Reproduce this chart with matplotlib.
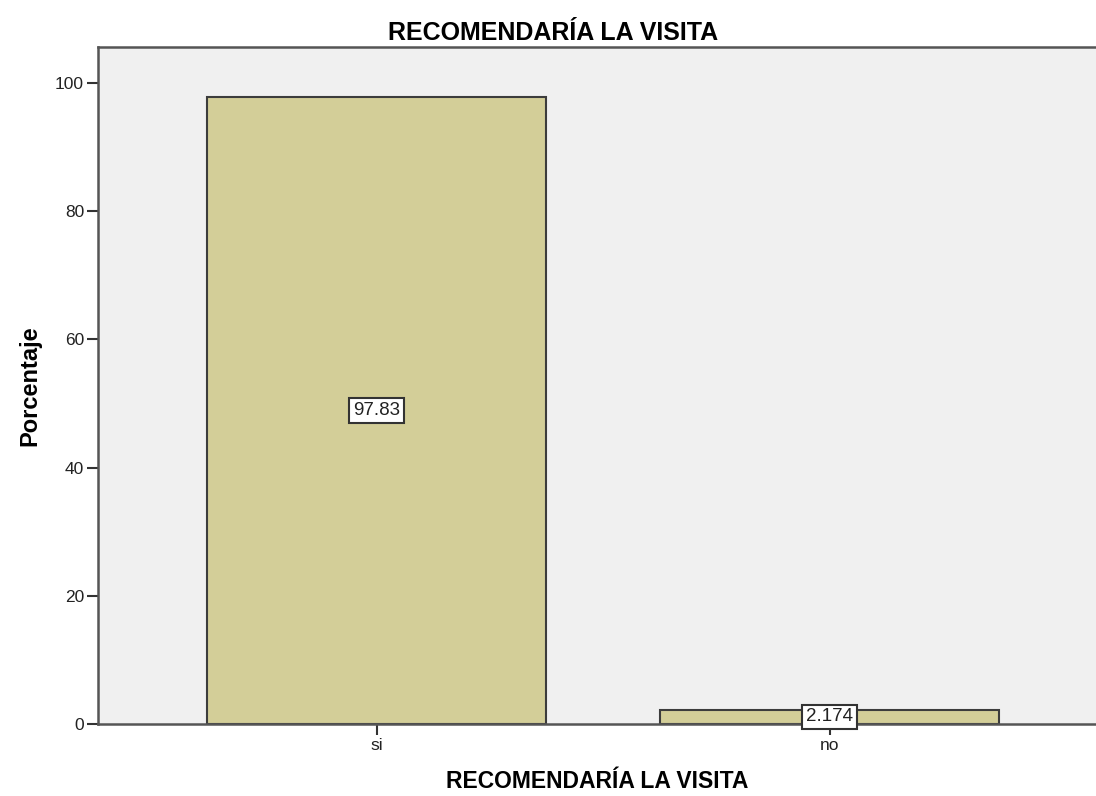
import matplotlib
matplotlib.use("Agg")
import matplotlib.pyplot as plt

plt.rcParams['font.family'] = ['Liberation Sans', 'DejaVu Sans']

categories = ['si', 'no']
values = [97.83, 2.174]
value_labels = ['97.83', '2.174']

fig = plt.figure(figsize=(10.96, 7.96), dpi=100)
ax = fig.add_axes([0.0894, 0.0905, 0.9106, 0.8505])
ax.set_facecolor('#f0f0f0')

x = list(range(len(categories)))
ax.bar(x, values, width=0.748, color='#d3ce98', edgecolor='#3c3c3c', linewidth=1.5, zorder=2)

for xi, v, lab in zip(x, values, value_labels):
    ax.text(xi, v / 2, lab, ha='center', va='center', fontsize=13.5, color='#222222', zorder=3,
            bbox=dict(boxstyle='square,pad=0.2', fc='white', ec='#333333', lw=1.5))

ax.set_xlim(-0.615, 1.588)
ax.set_ylim(0, 105.6)
ax.set_yticks([0, 20, 40, 60, 80, 100])
ax.set_xticks(x)
ax.set_xticklabels(categories)
ax.tick_params(axis='both', labelsize=12.5, labelcolor='#222222', color='#333333',
               length=8, width=1.5, direction='out', pad=2)

for s in ['left', 'bottom', 'top']:
    ax.spines[s].set_color('#555555')
    ax.spines[s].set_linewidth(1.8)
ax.spines['right'].set_visible(False)

fig.suptitle('RECOMENDARÍA LA VISITA', fontsize=18, fontweight='bold', x=0.505, y=0.973, va='top')
ax.set_xlabel('RECOMENDARÍA LA VISITA', fontsize=16.5, fontweight='bold', labelpad=12)
ax.set_ylabel('Porcentaje', fontsize=17, fontweight='bold', labelpad=10)

fig.savefig('out.png', dpi=100)
